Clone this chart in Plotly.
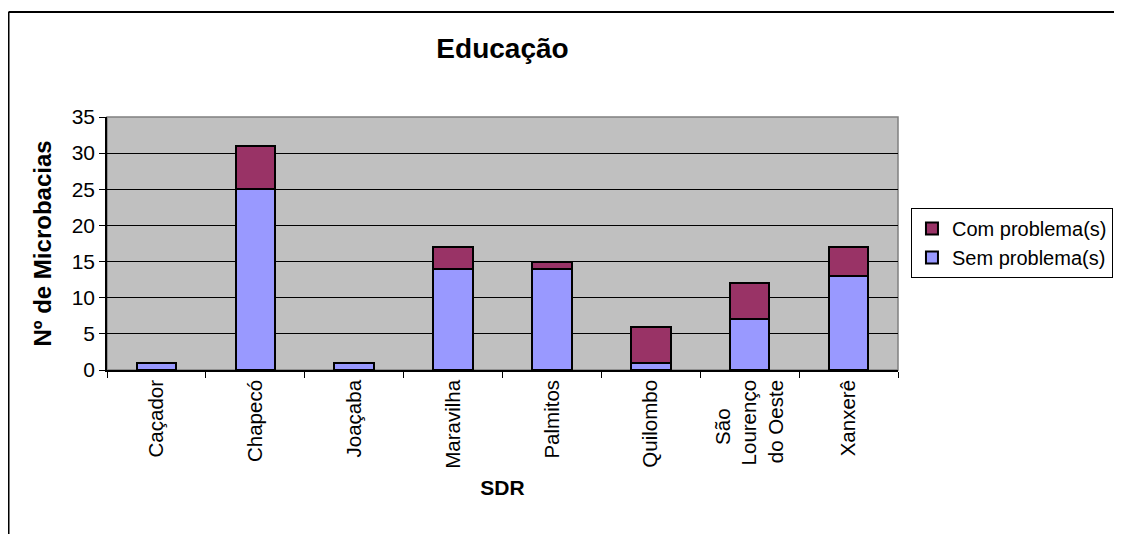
import plotly.graph_objects as go

NB = "\u00a0"
sdr = ["Caçador", "Chapecó", "Joaçaba", "Maravilha", "Palmitos",
       "Quilombo", "São" + NB * 5 + "<br>Lourenço<br>do Oeste", "Xanxerê"]
sem_problema = [1, 25, 1, 14, 14, 1, 7, 13]
com_problema = [0, 6, 0, 3, 1, 5, 5, 4]

FONT = "Liberation Sans, Arial, sans-serif"

fig = go.Figure()

fig.add_trace(go.Bar(x=sdr, y=sem_problema, name="Sem problema(s)",
                     marker=dict(color="#9999FF", line=dict(color="black", width=2))))
fig.add_trace(go.Bar(x=sdr, y=com_problema, name="Com problema(s)",
                     marker=dict(color="#993366", line=dict(color="black", width=2))))

# page has 8px body margin, so margins are shifted by 8px
fig.update_layout(
    width=1122,
    height=534,
    barmode="stack",
    bargap=0.6,
    paper_bgcolor="white",
    plot_bgcolor="#C0C0C0",
    margin=dict(l=99, r=232, t=109, b=172, autoexpand=False),
    font=dict(family=FONT, size=21, color="black"),
    title=dict(text="<b>Educação</b>", x=0.5, xref="paper", y=0.925, yanchor="middle",
               font=dict(size=28, family=FONT)),
    legend=dict(traceorder="reversed", x=1.0164, y=0.64, xanchor="left", yanchor="top",
                bordercolor="black", borderwidth=1, bgcolor="white", itemwidth=30,
                tracegroupgap=4, font=dict(size=20, family=FONT)),
    xaxis=dict(
        title=dict(text="<b>SDR</b>", font=dict(size=21), standoff=12),
        tickangle=-90,
        tickson="boundaries",
        ticks="outside",
        ticklen=6,
        tickcolor="black",
        showline=True,
        linecolor="black",
        linewidth=1.5,
        showgrid=False,
        automargin=False,
        tickfont=dict(size=20.5),
    ),
    yaxis=dict(
        title=dict(text="<b>Nº de Microbacias</b>", font=dict(size=24), standoff=13),
        range=[0, 35],
        dtick=5,
        ticks="outside",
        ticklen=6,
        tickcolor="black",
        showline=True,
        linecolor="black",
        linewidth=1.5,
        gridcolor="black",
        gridwidth=1,
        zeroline=False,
        automargin=False,
        tickfont=dict(size=21),
    ),
    shapes=[
        # plot area border (grey)
        dict(type="rect", xref="paper", yref="paper", x0=0, x1=1, y0=0, y1=1,
             line=dict(color="#808080", width=1.5), layer="below"),
        # outer chart frame
        dict(type="line", xref="paper", yref="paper", x0=-0.1245, x1=1.2819,
             y0=1.415, y1=1.415, line=dict(color="black", width=2)),
        dict(type="line", xref="paper", yref="paper", x0=-0.1245, x1=-0.1245,
             y0=1.415, y1=-0.7, line=dict(color="black", width=2)),
        dict(type="line", xref="paper", yref="paper", x0=1.2819, x1=1.2819,
             y0=1.415, y1=-0.7, line=dict(color="#606060", width=1.5)),
    ],
)

fig.write_html("out.html")
